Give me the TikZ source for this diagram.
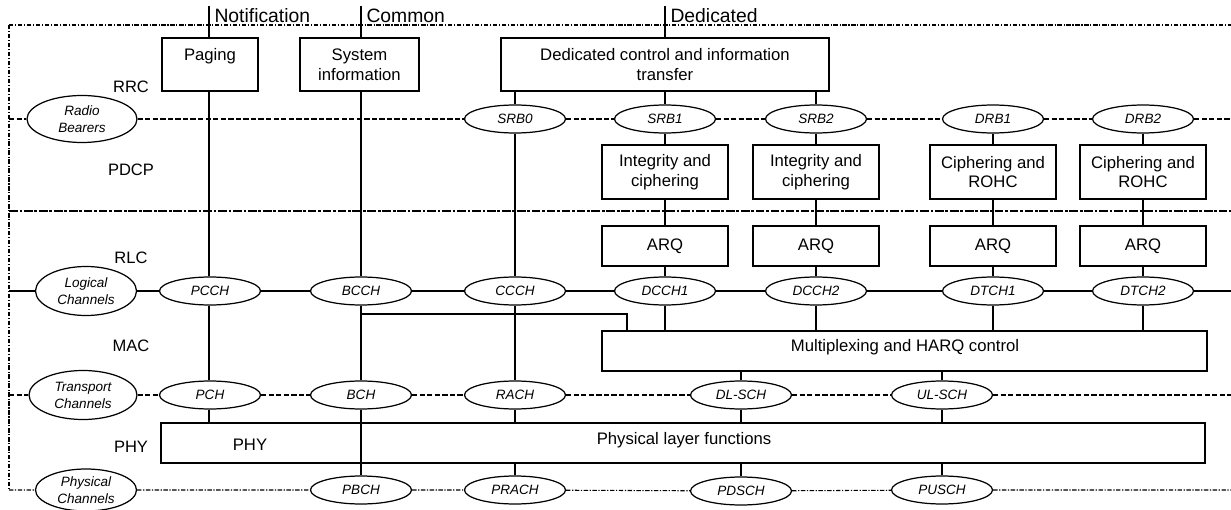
\documentclass[tikz,border=0pt]{standalone}
\usepackage{fontspec}
\setmainfont{Liberation Sans}
\usetikzlibrary{shapes.geometric}
\begin{document}
\begin{tikzpicture}[x=0.02cm,y=-0.02cm,line width=0.6pt,
  box/.style={draw,line width=0.7pt,inner sep=0pt,align=center,font=\fontsize{9.5}{11.3}\selectfont},
  txt/.style={inner sep=0pt,align=center,font=\fontsize{9.5}{11.3}\selectfont},
  lay/.style={inner sep=0pt,font=\fontsize{9.4}{11}\selectfont},
  hdr/.style={inner sep=0pt,anchor=west,font=\fontsize{11}{13}\selectfont},
  ell/.style={ellipse,draw,fill=white,line width=0.7pt,inner sep=0pt,minimum width=2.02cm,minimum height=0.56cm},
  lbl/.style={inner sep=0pt,align=center,font=\fontsize{7.7}{9.6}\selectfont\itshape},
  dashdot/.style={line width=0.6pt,dash pattern=on 2.5pt off 1pt on 0.6pt off 1pt},
  physdd/.style={line width=0.6pt,dash pattern=on 2.5pt off 0.9pt on 0.7pt off 0.9pt},
  longdd/.style={line width=0.65pt,dash pattern=on 5pt off 1pt on 1.5pt off 1pt},
  dsh/.style={line width=0.65pt,dash pattern=on 3pt off 1.3pt}]
\useasboundingbox (0,0) rectangle (1231,510);

% frame and level coordinates
\coordinate (frTL) at (9,25);
\coordinate (frTR) at (1231,25);
\coordinate (frBL) at (9,490);
\coordinate (rbL) at (9,119);   \coordinate (rbR) at (1231,119);
\coordinate (pdL) at (9,211);   \coordinate (pdR) at (1231,211);
\coordinate (lcL) at (9,291);   \coordinate (lcR) at (1231,291);
\coordinate (tcL) at (9,395);   \coordinate (tcR) at (1231,395);
\coordinate (pcR) at (1231,490);
\coordinate (hN) at (209,6);
\coordinate (hC) at (361,6);
\coordinate (hD) at (665,6);

% headers
\node[hdr] (tN) at (214,15.5) {Notification};
\node[hdr] (tC) at (366,15.5) {Common};
\node[hdr] (tD) at (670,15.5) {Dedicated};

% layer labels
\node[lay] (lRRC) at (131,87) {RRC};
\node[lay] (lPDCP) at (131,170) {PDCP};
\node[lay] (lRLC) at (131,258) {RLC};
\node[lay] (lMAC) at (131,346) {MAC};
\node[lay] (lPHY) at (131,447) {PHY};

% RRC boxes
\node[box,minimum width=1.92cm,minimum height=1.06cm] (PAG) at (210,64.5) {Paging\\\mbox{}};
\node[box,minimum width=2.38cm,minimum height=1.06cm] (SYS) at (359.5,64.5) {System\\information};
\node[box,minimum width=6.56cm,minimum height=1.06cm] (DED) at (665,64.5) {Dedicated control and information\\transfer};

% PDCP boxes
\node[box,minimum width=2.52cm,minimum height=1.08cm] (IC1) at (665,172) {Integrity and\\ciphering};
\node[box,minimum width=2.52cm,minimum height=1.08cm] (IC2) at (816,172) {Integrity and\\ciphering};
\node[box,minimum width=2.52cm,minimum height=1.08cm] (CR1) at (993,172) {Ciphering and\\ROHC};
\node[box,minimum width=2.52cm,minimum height=1.08cm] (CR2) at (1143,172) {Ciphering and\\ROHC};

% RLC boxes
\node[box,minimum width=2.52cm,minimum height=0.8cm] (ARQ1) at (665,246) {ARQ};
\node[box,minimum width=2.52cm,minimum height=0.8cm] (ARQ2) at (816,246) {ARQ};
\node[box,minimum width=2.52cm,minimum height=0.8cm] (ARQ3) at (993,246) {ARQ};
\node[box,minimum width=2.52cm,minimum height=0.8cm] (ARQ4) at (1143,246) {ARQ};

% MAC box
\node[box,minimum width=12.1cm,minimum height=0.8cm] (MUX) at (904.5,351) {};
\node[txt] (muxT) at (905,347) {Multiplexing and HARQ control};

% PHY box
\node[box,minimum width=20.88cm,minimum height=0.8cm] (PHYB) at (683,443) {};
\node[txt] (phyT) at (250,445) {PHY};
\node[txt] (plfT) at (684,440) {Physical layer functions};

% frame lines
\draw[dashdot] (frTL) -- (frTR);
\draw[dashdot] (frTL) -- (frBL);
\draw[longdd] (pdL) -- (pdR);

% ellipses: radio bearers
\node[ell,minimum width=2.2cm,minimum height=0.94cm,label={[lbl]center:Radio\\Bearers}] (RB) at (82,119) {};
\node[ell,label={[lbl]center:SRB0}] (SRB0) at (515,119) {};
\node[ell,label={[lbl]center:SRB1}] (SRB1) at (665,119) {};
\node[ell,label={[lbl]center:SRB2}] (SRB2) at (816,119) {};
\node[ell,label={[lbl]center:DRB1}] (DRB1) at (993,119) {};
\node[ell,label={[lbl]center:DRB2}] (DRB2) at (1143,119) {};

% logical channels
\node[ell,minimum width=2.02cm,minimum height=0.98cm,label={[lbl]center:Logical\\Channels}] (LC) at (86,291) {};
\node[ell,label={[lbl]center:PCCH}] (PCCH) at (210,291) {};
\node[ell,label={[lbl]center:BCCH}] (BCCH) at (361,291) {};
\node[ell,label={[lbl]center:CCCH}] (CCCH) at (515,291) {};
\node[ell,label={[lbl]center:DCCH1}] (DCCH1) at (665,291) {};
\node[ell,label={[lbl]center:DCCH2}] (DCCH2) at (816,291) {};
\node[ell,label={[lbl]center:DTCH1}] (DTCH1) at (993,291) {};
\node[ell,label={[lbl]center:DTCH2}] (DTCH2) at (1143,291) {};

% transport channels
\node[ell,minimum width=2.16cm,minimum height=0.98cm,label={[lbl]center:Transport\\Channels}] (TC) at (83,395) {};
\node[ell,label={[lbl]center:PCH}] (PCH) at (210,395) {};
\node[ell,label={[lbl]center:BCH}] (BCH) at (361,395) {};
\node[ell,label={[lbl]center:RACH}] (RACH) at (515,395) {};
\node[ell,label={[lbl]center:DL-SCH}] (DLSCH) at (741,395) {};
\node[ell,label={[lbl]center:UL-SCH}] (ULSCH) at (942,395) {};

% physical channels
\node[ell,minimum width=2.02cm,minimum height=0.84cm,label={[lbl]center:Physical\\Channels}] (PC) at (86,490) {};
\node[ell,label={[lbl]center:PBCH}] (PBCH) at (361,490) {};
\node[ell,label={[lbl]center:PRACH}] (PRACH) at (515,490) {};
\node[ell,label={[lbl]center:PDSCH}] (PDSCH) at (741,491) {};
\node[ell,label={[lbl]center:PUSCH}] (PUSCH) at (942,490) {};

% horizontal channel lines
\draw[dsh] (rbL) -- (RB) -- (SRB0) -- (SRB1) -- (SRB2) -- (DRB1) -- (DRB2) -- (rbR);
\draw (lcL) -- (LC) -- (PCCH) -- (BCCH) -- (CCCH) -- (DCCH1) -- (DCCH2) -- (DTCH1) -- (DTCH2) -- (lcR);
\draw[dsh] (tcL) -- (TC) -- (PCH) -- (BCH) -- (RACH) -- (DLSCH) -- (ULSCH) -- (tcR);
\draw[physdd] (frBL) -- (PC) -- (PBCH) -- (PRACH) -- (PDSCH) -- (PUSCH) -- (pcR);

% verticals: notification
\draw (hN) -- (hN |- PAG.north);
\draw (PAG.south -| hN) -- (PCCH.north -| hN);
\draw (PCCH.south -| hN) -- (PCH.north -| hN);
\draw (PCH.south -| hN) -- (PHYB.north -| hN);

% verticals: common
\draw (hC) -- (hC |- SYS.north);
\draw (SYS.south -| hC) -- (BCCH.north -| hC);
\draw (BCCH.south -| hC) -- (BCH.north -| hC);
\draw (BCH) -- (PBCH);
\coordinate (brA) at (361,314);
\coordinate (brB) at (627,331);
\draw (brA) -| (brB);

% verticals: SRB0 / CCCH
\draw (DED.south -| SRB0) -- (SRB0);
\draw (SRB0) -- (CCCH);
\draw (CCCH) -- (RACH);
\draw (RACH) -- (RACH |- PHYB.north);
\draw (PHYB.south -| PRACH) -- (PRACH);

% verticals: dedicated
\draw (hD) -- (hD |- DED.north);
\draw (DED.south -| SRB1) -- (SRB1);
\draw (DED.south -| SRB2) -- (SRB2);
\draw (SRB1) -- (IC1) -- (ARQ1) -- (DCCH1);
\draw (DCCH1) -- (MUX.north -| DCCH1);
\draw (SRB2) -- (IC2) -- (ARQ2) -- (DCCH2);
\draw (DCCH2) -- (MUX.north -| DCCH2);
\draw (DRB1) -- (CR1) -- (ARQ3) -- (DTCH1);
\draw (DTCH1) -- (MUX.north -| DTCH1);
\draw (DRB2) -- (CR2) -- (ARQ4) -- (DTCH2);
\draw (DTCH2) -- (MUX.north -| DTCH2);

% MAC to PHY
\draw (MUX.south -| DLSCH) -- (DLSCH);
\draw (DLSCH) -- (DLSCH |- PHYB.north);
\draw (PHYB.south -| PDSCH) -- (PDSCH);
\draw (MUX.south -| ULSCH) -- (ULSCH);
\draw (ULSCH) -- (ULSCH |- PHYB.north);
\draw (PHYB.south -| PUSCH) -- (PUSCH);
\end{tikzpicture}
\end{document}
